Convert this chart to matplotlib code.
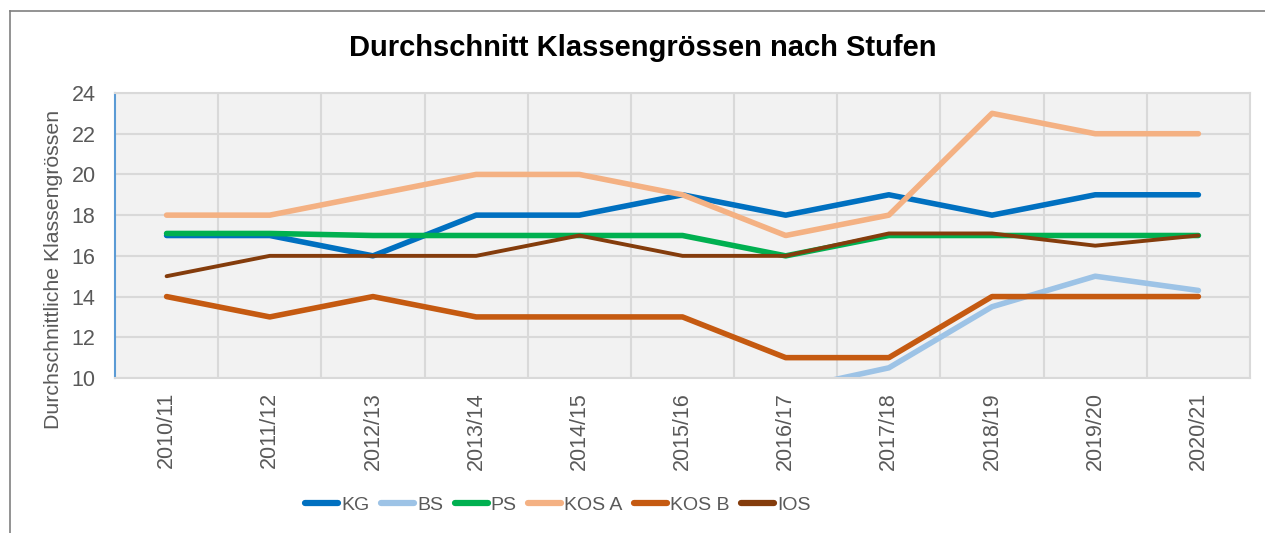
import matplotlib.pyplot as plt
from matplotlib.lines import Line2D

plt.rcParams['font.family'] = ['Liberation Sans', 'DejaVu Sans']

years = ["2010/11", "2011/12", "2012/13", "2013/14", "2014/15", "2015/16",
         "2016/17", "2017/18", "2018/19", "2019/20", "2020/21"]

kg = [17, 17, 16, 18, 18, 19, 18, 19, 18, 19, 19]
bs = [9, 9, 9, 9, 9, 9, 9.4, 10.5, 13.5, 15, 14.3]
ps = [17.1, 17.1, 17, 17, 17, 17, 16, 17, 17, 17, 17]
kos_a = [18, 18, 19, 20, 20, 19, 17, 18, 23, 22, 22]
kos_b = [14, 13, 14, 13, 13, 13, 11, 11, 14, 14, 14]
ios = [15, 16, 16, 16, 17, 16, 16, 17.1, 17.1, 16.5, 17]

names = ["KG", "BS", "PS", "KOS A", "KOS B", "IOS"]
colors = ["#0070C0", "#9DC3E6", "#00B050", "#F4B183", "#C55A11", "#843C0C"]
widths = [4.0, 4.0, 4.0, 4.0, 4.0, 2.8]

fig = plt.figure(figsize=(12.65, 5.33), dpi=100)
ax = fig.add_axes([115 / 1265, 1 - 378 / 533, 1135 / 1265, 285 / 533])
ax.set_facecolor("#F2F2F2")

x = range(len(years))
for vals, c, lw in zip([kg, bs, ps, kos_a, kos_b, ios], colors, widths):
    ax.plot(x, vals, color=c, lw=lw, solid_capstyle="round", solid_joinstyle="round")

ax.set_xlim(-0.5, len(years) - 0.5)
ax.set_ylim(10, 24)
ax.set_yticks(range(10, 25, 2))
ax.set_xticks(list(x))
ax.set_xticklabels(years, rotation=90, fontsize=15.5, color="#595959")
ax.tick_params(axis="y", labelsize=15.5, labelcolor="#595959", length=0, pad=14)
ax.tick_params(axis="x", length=0, pad=10)

# grid: horizontal at ticks, vertical between categories
for yv in range(10, 25, 2):
    ax.axhline(yv, color="#D9D9D9", lw=1.5, zorder=0)
for xv in range(1, len(years)):
    ax.axvline(xv - 0.5, color="#D9D9D9", lw=1.5, zorder=0)

for s in ["top", "right", "bottom"]:
    ax.spines[s].set_color("#D9D9D9")
    ax.spines[s].set_linewidth(1.5)
ax.spines["left"].set_color("#5B9BD5")
ax.spines["left"].set_linewidth(1.5)

ax.set_ylabel("Durchschnittliche Klassengrössen", fontsize=15.3, color="#595959")
ax.yaxis.set_label_coords(-0.046, 0.38)
fig.text(0.508, 1 - 48 / 533, "Durchschnitt Klassengrössen nach Stufen",
         ha="center", va="center", fontsize=21, fontweight="bold", color="black")

handles = [Line2D([], [], color=c, lw=4.5, solid_capstyle="round") for c in colors]
fig.legend(handles, names, loc="center", bbox_to_anchor=(558 / 1265, 1 - 505 / 533), ncol=6,
           frameon=False, handlelength=1.7, handletextpad=0.15,
           columnspacing=0.6, labelcolor="#595959",
           prop={'family': ['Liberation Sans', 'DejaVu Sans'], 'size': 14})

# outer chart border
fig.add_artist(Line2D([10 / 1265, 10 / 1265], [0, 1 - 11 / 533], color="#808080", lw=1.2,
                      transform=fig.transFigure))
fig.add_artist(Line2D([10 / 1265, 1], [1 - 11 / 533, 1 - 11 / 533], color="#808080", lw=1.2,
                      transform=fig.transFigure))

fig.savefig("out.png", dpi=100)
